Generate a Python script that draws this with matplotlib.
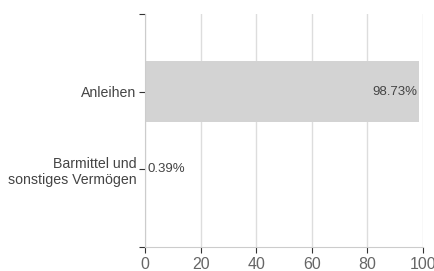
import matplotlib.pyplot as plt

categories = ["Anleihen", "Barmittel und\nsonstiges Vermögen"]
values = [98.73, 0.39]
labels = ["98.73%", "0.39%"]
xticks = [0, 20, 40, 60, 80, 100]

plt.rcParams['font.family'] = ['Liberation Sans', 'DejaVu Sans']

fig = plt.figure(figsize=(4.35, 2.71), dpi=100)
ax = fig.add_axes([145/435, 1-247/271, 278/435, 233/271])

ax.barh(range(len(categories)), values, height=0.78, color="#d3d3d3", zorder=2)

for i, (v, lab) in enumerate(zip(values, labels)):
    if v > 10:
        ax.text(v - 0.6, i, lab, ha="right", va="center", fontsize=9.5, color="#444444", zorder=3)
    else:
        ax.text(v + 0.4, i, lab, ha="left", va="center", fontsize=9.5, color="#444444", zorder=3)

ax.set_xlim(0, 100)
ax.set_ylim(2, -1)
ax.set_xticks(xticks)
ax.set_xticklabels([str(t) for t in xticks], fontsize=11.5, color="#666666")
ax.set_yticks([-1, 0, 1, 2])
ax.set_yticklabels(["", categories[0], categories[1], ""], fontsize=10.2, color="#444444")
ax.tick_params(axis="y", length=4, color="#333333", pad=2)
ax.tick_params(axis="x", length=4, color="#333333", pad=3)

ax.grid(axis="x", color="#dddddd", linewidth=1, zorder=0)
for s in ["top", "right"]:
    ax.spines[s].set_visible(False)
ax.spines["left"].set_color("#cccccc")
ax.spines["bottom"].set_color("#cccccc")

fig.savefig("out.png", dpi=100)
